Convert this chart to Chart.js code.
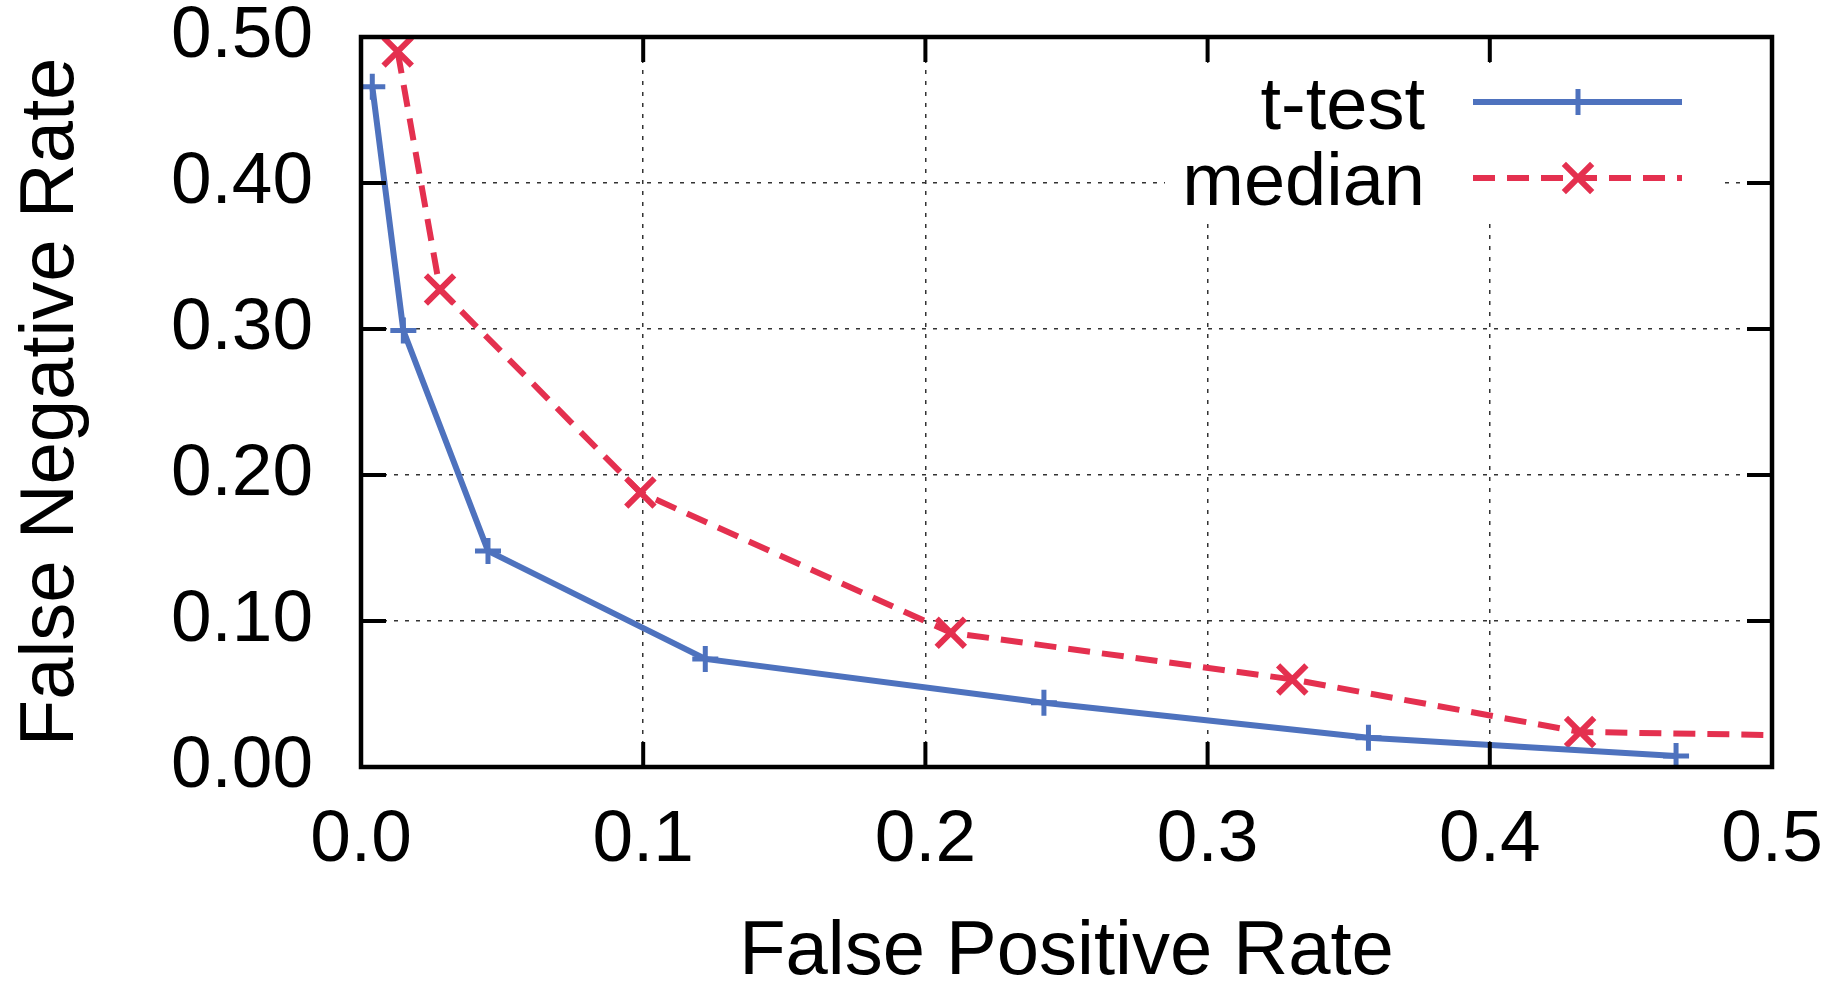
<!DOCTYPE html>
<html>
<head>
<meta charset="utf-8">
<script src="https://cdn.jsdelivr.net/npm/chart.js@4.4.1/dist/chart.umd.min.js"></script>
<style>
  html, body { margin: 0; padding: 0; background: #fff; }
  canvas { display: block; }
</style>
</head>
<body>
<canvas id="grafico" width="1844" height="987"></canvas>
<script>
// valores
const seriesNames = ["t-test", "median"];
const tTestFpr = [0.004, 0.015, 0.045, 0.122, 0.242, 0.357, 0.466];
const tTestFnr = [0.466, 0.299, 0.148, 0.074, 0.044, 0.020, 0.0075];
const medianFpr = [0.013, 0.028, 0.099, 0.209, 0.330, 0.432, 0.56];
const medianFnr = [0.490, 0.327, 0.188, 0.092, 0.060, 0.024, 0.020];
const xTickLabels = ["0.0", "0.1", "0.2", "0.3", "0.4", "0.5"];
const yTickLabels = ["0.00", "0.10", "0.20", "0.30", "0.40", "0.50"];

const FUENTE = "'Liberation Sans', Arial, Helvetica, sans-serif";
const AZUL = "#4e72be";
const ROJO = "#e4304f";

function toPoints(xs, ys) {
  return xs.map((x, i) => ({ x: x, y: ys[i] }));
}

function dibujarMarca(ctx, estilo, cx, cy, r) {
  ctx.beginPath();
  if (estilo === "cross") {
    ctx.moveTo(cx - r, cy);
    ctx.lineTo(cx + r, cy);
    ctx.moveTo(cx, cy - r);
    ctx.lineTo(cx, cy + r);
  } else {
    const d = r * Math.SQRT1_2;
    ctx.moveTo(cx - d, cy - d);
    ctx.lineTo(cx + d, cy + d);
    ctx.moveTo(cx - d, cy + d);
    ctx.lineTo(cx + d, cy - d);
  }
  ctx.stroke();
}

// leyenda estilo gnuplot, ticks hacia adentro y marco
const marco = {
  id: "marco",
  afterDraw(chart) {
    const { ctx, chartArea: a, scales } = chart;
    ctx.save();

    // caja blanca de la leyenda
    ctx.fillStyle = "#fff";
    ctx.fillRect(a.right - 607, a.top + 26, 557, 155);

    ctx.font = "74px " + FUENTE;
    ctx.textAlign = "right";
    ctx.textBaseline = "alphabetic";
    chart.data.datasets.forEach((ds, i) => {
      const yFila = a.top + 65 + i * 76;
      ctx.fillStyle = "#000";
      ctx.fillText(ds.label, a.right - 347, yFila + 27);

      ctx.strokeStyle = ds.borderColor;
      ctx.lineWidth = ds.borderWidth;
      ctx.setLineDash(ds.borderDash || []);
      ctx.beginPath();
      ctx.moveTo(a.right - 299, yFila);
      ctx.lineTo(a.right - 90, yFila);
      ctx.stroke();
      ctx.setLineDash([]);
      ctx.lineWidth = ds.pointBorderWidth;
      dibujarMarca(ctx, ds.pointStyle, a.right - 194, yFila, ds.pointRadius);
    });

    // ticks hacia adentro en los cuatro lados
    ctx.strokeStyle = "#000";
    ctx.lineWidth = 4;
    ctx.beginPath();
    scales.y.ticks.forEach((t) => {
      const py = scales.y.getPixelForValue(t.value);
      ctx.moveTo(a.left, py);
      ctx.lineTo(a.left + 25, py);
      ctx.moveTo(a.right, py);
      ctx.lineTo(a.right - 25, py);
    });
    scales.x.ticks.forEach((t) => {
      const px = scales.x.getPixelForValue(t.value);
      ctx.moveTo(px, a.bottom);
      ctx.lineTo(px, a.bottom - 25);
      ctx.moveTo(px, a.top);
      ctx.lineTo(px, a.top + 25);
    });
    ctx.stroke();

    ctx.lineWidth = 4.5;
    ctx.strokeRect(a.left, a.top, a.right - a.left, a.bottom - a.top);
    ctx.restore();
  },
};

const ctx = document.getElementById("grafico").getContext("2d");

new Chart(ctx, {
  type: "scatter",
  data: {
    datasets: [
      {
        label: seriesNames[0],
        data: toPoints(tTestFpr, tTestFnr),
        showLine: true,
        borderColor: AZUL,
        backgroundColor: AZUL,
        borderWidth: 6,
        pointStyle: "cross",
        pointRadius: 13,
        pointBorderWidth: 5,
        pointBorderColor: AZUL,
        fill: false,
      },
      {
        label: seriesNames[1],
        data: toPoints(medianFpr, medianFnr),
        showLine: true,
        borderColor: ROJO,
        backgroundColor: ROJO,
        borderWidth: 6,
        borderDash: [22, 12],
        pointStyle: "crossRot",
        pointRadius: 20,
        pointBorderWidth: 6,
        pointBorderColor: ROJO,
        fill: false,
      },
    ],
  },
  options: {
    responsive: false,
    animation: false,
    devicePixelRatio: 1,
    layout: { padding: { top: 37, right: 72, left: 0, bottom: 0 } },
    plugins: {
      legend: { display: false },
      tooltip: { enabled: false },
    },
    scales: {
      x: {
        type: "linear",
        min: 0,
        max: 0.5,
        ticks: {
          stepSize: 0.1,
          autoSkip: false,
          maxRotation: 0,
          color: "#000",
          padding: 30,
          font: { family: FUENTE, size: 73 },
          callback: (v, i) => xTickLabels[i],
        },
        grid: { color: "#333", lineWidth: 1.5, drawTicks: false },
        border: { display: false, dash: [4, 7] },
        title: {
          display: true,
          text: "False Positive Rate",
          color: "#000",
          padding: 0,
          font: { family: FUENTE, size: 76, lineHeight: 0.9 },
        },
        afterFit(s) {
          s.height = 220;
          s.paddingLeft = 0;
          s.paddingRight = 0;
        },
      },
      y: {
        type: "linear",
        min: 0,
        max: 0.5,
        ticks: {
          stepSize: 0.1,
          autoSkip: false,
          color: "#000",
          padding: 48,
          font: { family: FUENTE, size: 73 },
          callback: (v, i) => yTickLabels[i],
        },
        grid: { color: "#333", lineWidth: 1.5, drawTicks: false },
        border: { display: false, dash: [4, 7] },
        title: {
          display: true,
          text: "False Negative Rate",
          color: "#000",
          padding: { top: 18, bottom: 0 },
          font: { family: FUENTE, size: 76, lineHeight: 0.9 },
        },
        afterFit(s) {
          s.width = 361;
          s.paddingTop = 0;
          s.paddingBottom = 0;
        },
      },
    },
  },
  plugins: [marco],
});
</script>
</body>
</html>
